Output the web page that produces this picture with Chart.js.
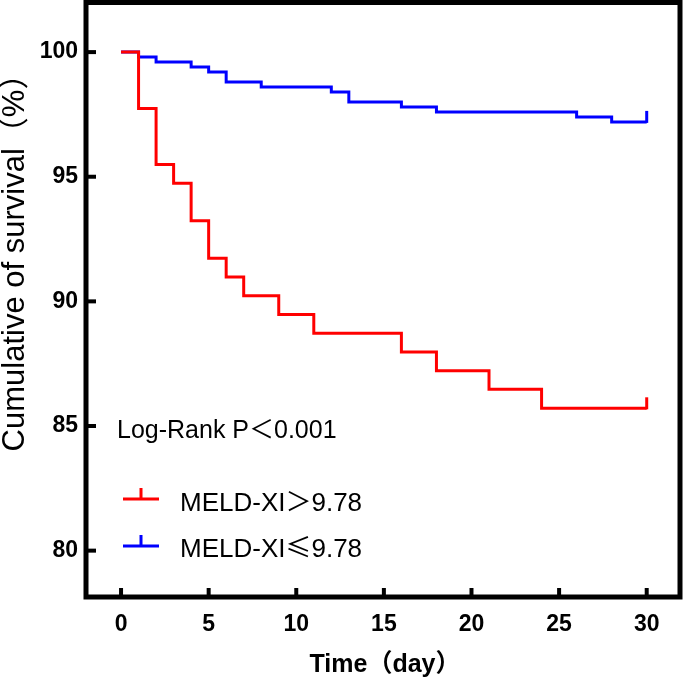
<!DOCTYPE html>
<html>
<head>
<meta charset="utf-8">
<script src="https://cdn.jsdelivr.net/npm/chart.js@4.4.0/dist/chart.umd.min.js"></script>
<style>
  html, body { margin: 0; padding: 0; background: #fff; }
  #wrap { width: 685px; height: 680px; }
</style>
</head>
<body>
<div id="wrap"><canvas id="km"></canvas></div>
<script>
// Kaplan-Meier data
const redTimes = [0, 1, 2, 3, 4, 5, 6, 7, 9, 11, 16, 18, 21, 24, 30];
const redSurv = [100, 97.74, 95.49, 94.74, 93.23, 91.73, 90.98, 90.23, 89.47, 88.72, 87.97, 87.22, 86.47, 85.71, 85.71];
const blueTimes = [0, 1, 2, 4, 5, 6, 8, 12, 13, 16, 18, 26, 28, 30];
const blueSurv = [100, 99.8, 99.6, 99.4, 99.2, 98.8, 98.6, 98.4, 98.0, 97.8, 97.6, 97.4, 97.2, 97.2];
// censored observations (drawn as small vertical ticks)
const redCensor = [30];
const blueCensor = [30];

// legend labels split so the relation sign can use the CJK font
const seriesNames = [["MELD-XI", "＞", "9.78"], ["MELD-XI", "≤", "9.78"]];
const xTicks = [0, 5, 10, 15, 20, 25, 30];
const yTicks = [80, 85, 90, 95, 100];
const xTitle = "Time（day）";
const yTitle = "Cumulative of survival（%）";
const pText = ["Log-Rank P", "＜", "0.001"];

const RED = "#ff0000";
const BLUE = "#0000ff";
const FONT = "'Liberation Sans', Arial, 'Noto Sans CJK SC', sans-serif";
const CJK = "'Noto Sans CJK SC', sans-serif";

function toPoints(ts, ss) {
  return ts.map((t, i) => ({ x: t, y: ss[i] }));
}

function survAt(ts, ss, t) {
  let v = ss[0];
  for (let i = 0; i < ts.length; i++) if (ts[i] <= t) v = ss[i];
  return v;
}

// text in three runs: latin, sign (CJK font), latin
function drawRuns(ctx, parts, x, y, size) {
  parts.forEach((p, i) => {
    ctx.font = size + "px " + (i === 1 ? CJK : FONT);
    ctx.fillText(p, x, y);
    x += ctx.measureText(p).width;
  });
}

// frame, inward ticks, censor marks, legend and texts
const decor = {
  id: "decor",
  afterDatasetsDraw(chart) {
    const { ctx, chartArea: a, scales } = chart;
    const xs = scales.x, ys = scales.y;
    ctx.save();

    // censor ticks
    ctx.lineWidth = 3;
    [[redCensor, redTimes, redSurv, RED], [blueCensor, blueTimes, blueSurv, BLUE]].forEach(([cs, ts, ss, col]) => {
      ctx.strokeStyle = col;
      cs.forEach(t => {
        const px = xs.getPixelForValue(t);
        const py = ys.getPixelForValue(survAt(ts, ss, t));
        ctx.beginPath();
        ctx.moveTo(px, py + 1);
        ctx.lineTo(px, py - 11);
        ctx.stroke();
      });
    });

    // frame
    ctx.strokeStyle = "#000";
    ctx.lineWidth = 5;
    ctx.strokeRect(a.left, a.top, a.right - a.left, a.bottom - a.top);

    // inward ticks
    ctx.lineWidth = 4;
    xTicks.forEach(v => {
      const px = xs.getPixelForValue(v);
      ctx.beginPath();
      ctx.moveTo(px, a.bottom);
      ctx.lineTo(px, a.bottom - 9);
      ctx.stroke();
    });
    yTicks.forEach(v => {
      const py = ys.getPixelForValue(v);
      ctx.beginPath();
      ctx.moveTo(a.left, py);
      ctx.lineTo(a.left + 10, py);
      ctx.stroke();
    });

    // p-value
    ctx.fillStyle = "#000";
    ctx.textAlign = "left";
    ctx.textBaseline = "alphabetic";
    drawRuns(ctx, pText, 117, 438, 25);

    // legend
    [[RED, 499, 511], [BLUE, 546, 557]].forEach(([col, ly, by], i) => {
      ctx.strokeStyle = col;
      ctx.lineWidth = 3;
      ctx.beginPath();
      ctx.moveTo(123, ly);
      ctx.lineTo(159, ly);
      ctx.moveTo(141, ly);
      ctx.lineTo(141, ly - 11);
      ctx.stroke();
      ctx.fillStyle = "#000";
      drawRuns(ctx, seriesNames[i], 180, by, 26);
    });

    // axis titles
    ctx.font = "bold 25px " + FONT;
    ctx.textAlign = "center";
    ctx.fillText(xTitle, (a.left + a.right) / 2 + 2, 672);

    ctx.translate(15, 255);
    ctx.rotate(-Math.PI / 2);
    ctx.font = "31px " + FONT;
    ctx.textBaseline = "middle";
    ctx.fillText(yTitle, 0, 0);

    ctx.restore();
  }
};

new Chart(document.getElementById("km"), {
  type: "line",
  data: {
    datasets: [
      {
        label: seriesNames[0].join(""),
        data: toPoints(redTimes, redSurv),
        borderColor: RED,
        borderWidth: 3,
        stepped: true,
        pointRadius: 0,
        fill: false
      },
      {
        label: seriesNames[1].join(""),
        data: toPoints(blueTimes, blueSurv),
        borderColor: BLUE,
        borderWidth: 3,
        stepped: true,
        pointRadius: 0,
        fill: false
      }
    ]
  },
  options: {
    responsive: true,
    maintainAspectRatio: false,
    animation: false,
    layout: { padding: { top: 2.5, right: 5, left: 0, bottom: 0 } },
    plugins: { legend: { display: false }, tooltip: { enabled: false } },
    scales: {
      x: {
        type: "linear",
        min: -2,
        max: 31.9,
        afterBuildTicks: s => { s.ticks = xTicks.map(v => ({ value: v })); },
        afterFit: s => { s.height = 83; s.paddingLeft = 0; s.paddingRight = 0; },
        grid: { display: false, drawTicks: false },
        border: { display: false },
        ticks: {
          padding: 14,
          color: "#000",
          font: { family: FONT, size: 23, weight: "bold" },
          maxRotation: 0
        }
      },
      y: {
        type: "linear",
        min: 78.14,
        max: 101.99,
        afterBuildTicks: s => { s.ticks = yTicks.map(v => ({ value: v })); },
        afterFit: s => { s.width = 86; s.paddingTop = 0; s.paddingBottom = 0; },
        grid: { display: false, drawTicks: false },
        border: { display: false },
        ticks: {
          padding: 8,
          color: "#000",
          font: { family: FONT, size: 23, weight: "bold" }
        }
      }
    }
  },
  plugins: [decor]
});
</script>
</body>
</html>
